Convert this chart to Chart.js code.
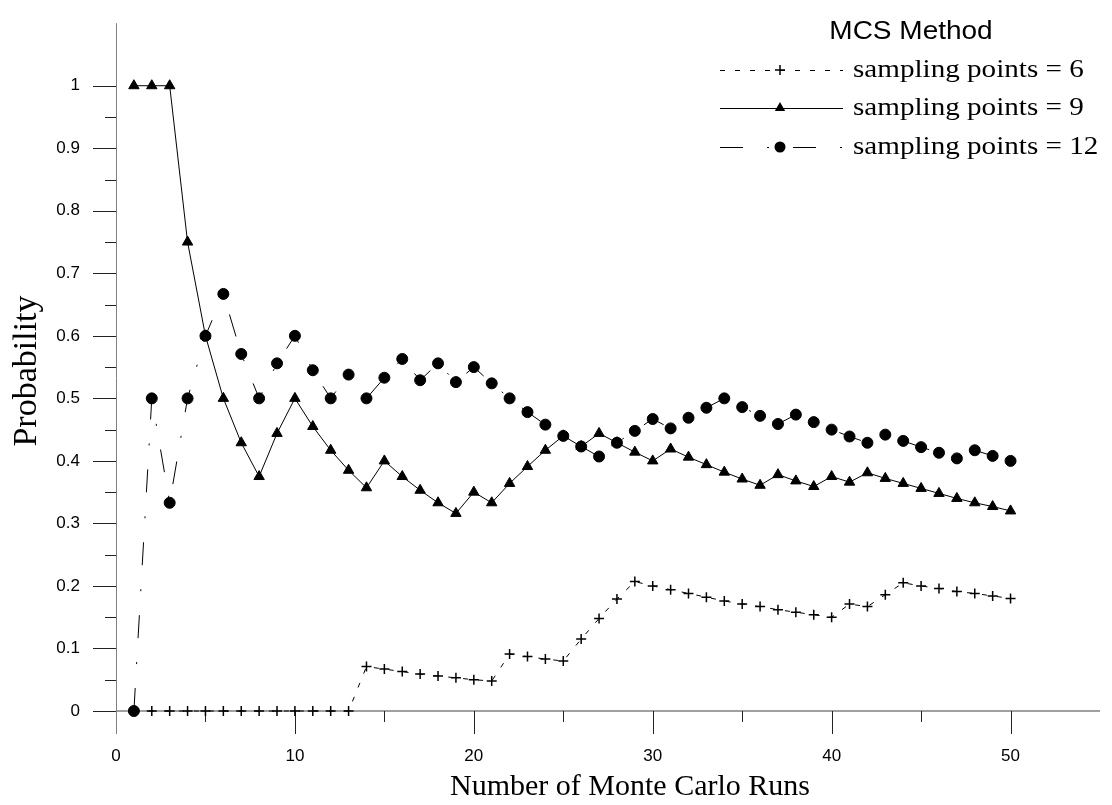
<!DOCTYPE html>
<html>
<head>
<meta charset="utf-8">
<script src="https://cdn.jsdelivr.net/npm/chart.js@4.4.1/dist/chart.umd.min.js"></script>
<style>
    html, body { margin: 0; padding: 0; background: #fff; }
    #wrap { width: 1112px; height: 805px; }
</style>
</head>
<body>
<div id="wrap"><canvas id="chart" width="1112" height="805"></canvas></div>
<script>
// Monte Carlo runs (x)
const runs = [1, 2, 3, 4, 5, 6, 7, 8, 9, 10, 11, 12, 13, 14, 15, 16, 17, 18, 19, 20,
    21, 22, 23, 24, 25, 26, 27, 28, 29, 30, 31, 32, 33, 34, 35, 36, 37, 38, 39, 40,
    41, 42, 43, 44, 45, 46, 47, 48, 49, 50];

// sampling points = 6
const points6 = [0, 0, 0, 0, 0, 0, 0, 0, 0, 0, 0, 0, 0, 0.071, 0.067, 0.063, 0.059, 0.056, 0.053, 0.05,
    0.048, 0.091, 0.087, 0.083, 0.08, 0.115, 0.148, 0.179, 0.207, 0.2, 0.194, 0.188, 0.182, 0.176, 0.171, 0.167, 0.162, 0.158, 0.154, 0.15,
    0.171, 0.167, 0.186, 0.205, 0.2, 0.196, 0.191, 0.188, 0.184, 0.18];

// sampling points = 9
const points9 = [1, 1, 1, 0.75, 0.6, 0.5, 0.429, 0.375, 0.444, 0.5, 0.455, 0.417, 0.385, 0.357, 0.4, 0.375, 0.353, 0.333, 0.316, 0.35,
    0.333, 0.364, 0.391, 0.417, 0.44, 0.423, 0.444, 0.429, 0.414, 0.4, 0.419, 0.406, 0.394, 0.382, 0.371, 0.361, 0.378, 0.368, 0.359, 0.375,
    0.366, 0.381, 0.372, 0.364, 0.356, 0.348, 0.34, 0.333, 0.327, 0.32];

// sampling points = 12
const points12 = [0, 0.5, 0.333, 0.5, 0.6, 0.667, 0.571, 0.5, 0.556, 0.6, 0.545, 0.5, 0.538, 0.5, 0.533, 0.563, 0.529, 0.556, 0.526, 0.55,
    0.524, 0.5, 0.478, 0.458, 0.44, 0.423, 0.407, 0.429, 0.448, 0.467, 0.452, 0.469, 0.485, 0.5, 0.486, 0.472, 0.459, 0.474, 0.462, 0.45,
    0.439, 0.429, 0.442, 0.432, 0.422, 0.413, 0.404, 0.417, 0.408, 0.4];

const seriesLabels = ['sampling points = 6', 'sampling points = 9', 'sampling points = 12'];
const legendTitle = 'MCS Method';
const xTitle = 'Number of Monte Carlo Runs';
const yTitle = 'Probability';

const styles = [
    { dash: [5, 10], pointStyle: 'cross', radius: 5 },
    { dash: [], pointStyle: 'triangle', radius: 6 },
    { dash: [23, 24, 2, 24], pointStyle: 'circle', radius: 5.5 }
];

const toXY = vals => runs.map((r, i) => ({ x: r, y: vals[i] }));

const datasets = [points6, points9, points12].map((vals, i) => ({
    label: seriesLabels[i],
    data: toXY(vals),
    borderColor: '#000',
    backgroundColor: '#000',
    borderWidth: 1,
    borderDash: styles[i].dash,
    pointStyle: styles[i].pointStyle,
    pointRadius: styles[i].radius,
    pointBorderWidth: i === 0 ? 1.5 : 1,
    pointBorderColor: '#000',
    pointBackgroundColor: '#000',
    tension: 0,
    clip: false
}));

// the source picture is a little wider than tall, text included
function wideText(ctx, text, x, y, sx) {
    ctx.save();
    ctx.translate(x, y);
    ctx.scale(sx, 1);
    ctx.fillText(text, 0, 0);
    ctx.restore();
}

// draw a marker for the legend
function drawMarker(ctx, style, x, y, r) {
    ctx.save();
    ctx.setLineDash([]);
    ctx.fillStyle = '#000';
    ctx.strokeStyle = '#000';
    ctx.beginPath();
    if (style === 'cross') {
        ctx.lineWidth = 1.5;
        ctx.moveTo(x - r, y); ctx.lineTo(x + r, y);
        ctx.moveTo(x, y - r); ctx.lineTo(x, y + r);
        ctx.stroke();
    } else if (style === 'triangle') {
        ctx.moveTo(x, y - r);
        ctx.lineTo(x + r * 0.866, y + r * 0.5);
        ctx.lineTo(x - r * 0.866, y + r * 0.5);
        ctx.closePath();
        ctx.fill();
    } else {
        ctx.arc(x, y, r, 0, Math.PI * 2);
        ctx.fill();
    }
    ctx.restore();
}

const frame = {
    id: 'frame',
    beforeDatasetsDraw(chart) {
        const ctx = chart.ctx;
        const xs = chart.scales.x;
        const ys = chart.scales.y;
        const x0 = xs.getPixelForValue(0);
        const y0 = ys.getPixelForValue(0);
        ctx.save();
        // axis lines
        ctx.strokeStyle = '#808080';
        ctx.lineWidth = 1.5;
        ctx.beginPath();
        ctx.moveTo(xs.left, y0);
        ctx.lineTo(xs.right, y0);
        ctx.stroke();
        ctx.lineWidth = 1;
        ctx.beginPath();
        ctx.moveTo(Math.round(x0) + 0.5, ys.top);
        ctx.lineTo(Math.round(x0) + 0.5, y0 + 23);
        ctx.stroke();
        // major + minor ticks
        ctx.strokeStyle = '#222';
        ctx.beginPath();
        for (let k = 0; k <= 20; k++) {
            const py = Math.round(ys.getPixelForValue(k * 0.05)) + 0.5;
            const len = k % 2 === 0 ? 23 : 11;
            ctx.moveTo(x0 - len, py);
            ctx.lineTo(x0, py);
        }
        for (let k = 1; k <= 10; k++) {
            const px = Math.round(xs.getPixelForValue(k * 5)) + 0.5;
            const len = k % 2 === 0 ? 23 : 11;
            ctx.moveTo(px, y0);
            ctx.lineTo(px, y0 + len);
        }
        ctx.stroke();

        // axis titles
        ctx.fillStyle = '#000';
        ctx.textAlign = 'center';
        ctx.textBaseline = 'middle';
        ctx.font = '30px "Liberation Serif", "Times New Roman", serif';
        ctx.fillText(xTitle, 630, 787);
        ctx.font = '34px "Liberation Serif", "Times New Roman", serif';
        ctx.translate(27, 371);
        ctx.rotate(-Math.PI / 2);
        ctx.fillText(yTitle, 0, 0);
        ctx.restore();
    },
    afterDraw(chart) {
        const ctx = chart.ctx;
        ctx.save();
        ctx.fillStyle = '#000';
        ctx.textBaseline = 'middle';
        ctx.textAlign = 'center';
        ctx.font = '25px "Liberation Sans", Arial, sans-serif';
        wideText(ctx, legendTitle, 911, 32, 1.12);
        ctx.textAlign = 'left';
        ctx.font = '26px "Liberation Serif", "Times New Roman", serif';
        const rowsY = [70, 108, 147];
        seriesLabels.forEach((label, i) => {
            const y = rowsY[i];
            ctx.strokeStyle = '#000';
            ctx.lineWidth = 1;
            ctx.setLineDash(styles[i].dash);
            ctx.beginPath();
            ctx.moveTo(720, y + 0.5);
            ctx.lineTo(843, y + 0.5);
            ctx.stroke();
            drawMarker(ctx, styles[i].pointStyle, 780, y, styles[i].radius);
            wideText(ctx, label, 853, y, 1.12);
        });
        ctx.restore();
    }
};

const tickFont = { family: '"Liberation Sans", Arial, sans-serif', size: 17 };

new Chart(document.getElementById('chart'), {
    type: 'line',
    data: { datasets },
    options: {
        responsive: false,
        animation: false,
        devicePixelRatio: 1,
        layout: { padding: { top: 8, left: 0, right: 0, bottom: 0 } },
        plugins: {
            legend: { display: false },
            tooltip: { enabled: false }
        },
        scales: {
            x: {
                type: 'linear',
                min: 0,
                max: 55,
                border: { display: false },
                grid: { display: true, drawOnChartArea: false, drawTicks: true, tickLength: 23, tickColor: 'rgba(0,0,0,0)' },
                ticks: {
                    stepSize: 10,
                    autoSkip: false,
                    maxRotation: 0,
                    padding: 12,
                    color: '#000',
                    font: tickFont,
                    callback: v => (v <= 50 ? v : '')
                },
                afterFit: s => { s.height = 94; }
            },
            y: {
                min: 0,
                max: 1.1,
                border: { display: false },
                grid: { display: true, drawOnChartArea: false, drawTicks: true, tickLength: 23, tickColor: 'rgba(0,0,0,0)' },
                ticks: {
                    stepSize: 0.1,
                    autoSkip: false,
                    padding: 13,
                    color: '#000',
                    font: tickFont,
                    callback: v => (v <= 1.0001 ? String(Number(v.toFixed(1))) : '')
                },
                afterFit: s => { s.width = 116; }
            }
        }
    },
    plugins: [frame]
});
</script>
</body>
</html>
